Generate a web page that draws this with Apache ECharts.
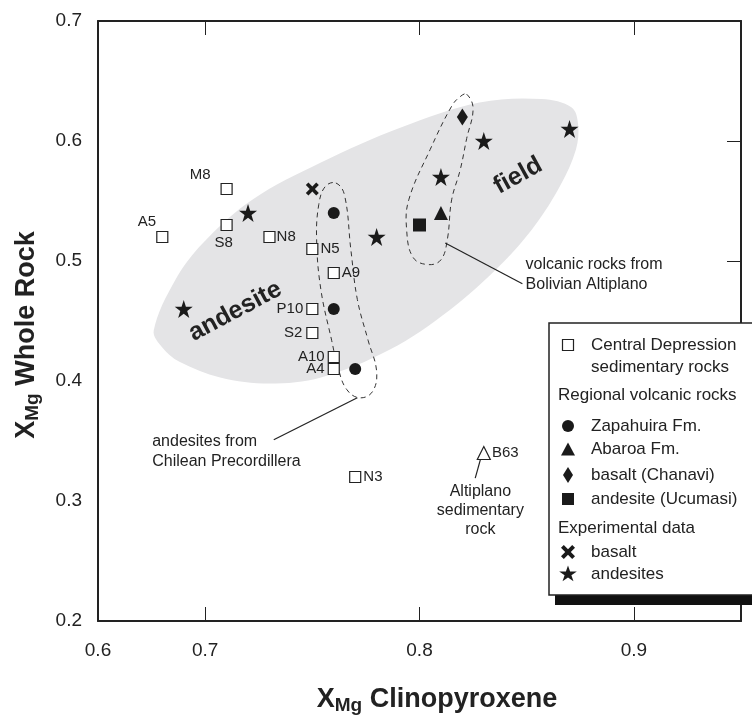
<!DOCTYPE html>
<html>
<head>
<meta charset="utf-8">
<script src="https://cdn.jsdelivr.net/npm/echarts@6/dist/echarts.min.js"></script>
<style>
html, body { margin: 0; padding: 0; background: #fff; }
#chart { width: 752px; height: 723px; }
</style>
</head>
<body>
<div id="chart"></div>
<script>
// axis ticks (the left edge sits at 0.65 but is labelled 0.6 in the original)
const xTickValues = [0.65, 0.7, 0.8, 0.9];
const xTickLabels = ['0.6', '0.7', '0.8', '0.9'];
const xInnerTicks = [0.7, 0.8, 0.9];
const yInnerTicks = [0.3, 0.4, 0.5, 0.6];

// Central Depression sedimentary rocks
const sedNames = ['M8', 'S8', 'A5', 'N8', 'N5', 'A9', 'P10', 'S2', 'A10', 'A4', 'N3'];
const sedX = [0.71, 0.71, 0.68, 0.73, 0.75, 0.76, 0.75, 0.75, 0.76, 0.76, 0.77];
const sedY = [0.56, 0.53, 0.52, 0.52, 0.51, 0.49, 0.46, 0.44, 0.42, 0.41, 0.32];
// Altiplano sedimentary rock
const altNames = ['B63'];
const altX = [0.83];
const altY = [0.34];
// regional volcanic rocks
const zapX = [0.76, 0.76, 0.77];
const zapY = [0.54, 0.46, 0.41];
const abaX = [0.81];
const abaY = [0.54];
const chaX = [0.82];
const chaY = [0.62];
const ucuX = [0.80];
const ucuY = [0.53];
// experimental data
const expBasX = [0.75];
const expBasY = [0.56];
const expAndX = [0.69, 0.72, 0.78, 0.81, 0.83, 0.87];
const expAndY = [0.46, 0.54, 0.52, 0.57, 0.60, 0.61];

// outlines of the drawn fields (data coordinates)
const andesiteField = [
  [0.676, 0.442], [0.686, 0.484], [0.699, 0.515], [0.722, 0.551], [0.754, 0.582],
  [0.791, 0.611], [0.828, 0.632], [0.857, 0.635], [0.871, 0.628], [0.874, 0.614],
  [0.873, 0.593], [0.866, 0.564], [0.854, 0.530], [0.838, 0.497], [0.814, 0.459],
  [0.786, 0.426], [0.754, 0.403], [0.730, 0.398], [0.707, 0.403], [0.688, 0.416],
  [0.680, 0.428]
];
const chileLoop = [
  [0.761, 0.565], [0.765, 0.555], [0.768, 0.509], [0.771, 0.468], [0.776, 0.434],
  [0.780, 0.408], [0.778, 0.391], [0.772, 0.386], [0.766, 0.393], [0.762, 0.411],
  [0.759, 0.434], [0.754, 0.476], [0.752, 0.518], [0.753, 0.547], [0.756, 0.562]
];
const boliviaLoop = [
  [0.822, 0.639], [0.825, 0.627], [0.822, 0.602], [0.819, 0.576], [0.815, 0.551],
  [0.813, 0.518], [0.810, 0.501], [0.804, 0.497], [0.797, 0.503], [0.794, 0.526],
  [0.795, 0.551], [0.805, 0.593], [0.815, 0.629], [0.819, 0.637]
];

const ink = '#222';
const font = '"Liberation Sans", Arial, sans-serif';
// symbol outlines in a 100x100 box
const starPts = [[50, 0], [61.8, 35.1], [98.9, 35.1], [68.9, 56.9], [80.3, 92.2], [50, 70.5], [19.7, 92.2], [31.1, 56.9], [1.1, 35.1], [38.2, 35.1]];
const crossPts = [[0, 20], [20, 0], [50, 30], [80, 0], [100, 20], [70, 50], [100, 80], [80, 100], [50, 70], [20, 100], [0, 80], [30, 50]];
const toPath = p => 'path://M' + p.map(q => q.join(',')).join(' L') + ' Z';

const labelSide = {
  M8: { position: 'left', distance: 1, offset: [-9, -14] },
  S8: { position: 'bottom', distance: 4, offset: [-3, 0] },
  A5: { position: 'left', distance: 0, offset: [0, -15] },
  N8: { position: 'right', distance: 1 },
  N5: { position: 'right', distance: 2 },
  A9: { position: 'right', distance: 2 },
  P10: { position: 'left', distance: 3 },
  S2: { position: 'left', distance: 4 },
  A10: { position: 'left', distance: 3 },
  A4: { position: 'left', distance: 3 },
  N3: { position: 'right', distance: 2 },
  B63: { position: 'right', distance: 1 }
};

function pts(xs, ys, names) {
  return xs.map((x, i) => {
    const item = { value: [x, ys[i]] };
    if (names) {
      item.name = names[i];
      item.label = Object.assign({ show: true }, labelSide[names[i]]);
    }
    return item;
  });
}

const labelStyle = { color: ink, fontSize: 15, fontFamily: font, formatter: '{b}' };

function scatter(name, data, symbol, size, fill) {
  return {
    name, type: 'scatter', z: 5, data, symbol, symbolSize: size,
    itemStyle: { color: fill, borderColor: ink, borderWidth: fill === '#fff' ? 1.2 : 0, opacity: 1 },
    label: labelStyle,
    emphasis: { disabled: true }
  };
}

function shapeSeries(z, build) {
  return {
    type: 'custom', coordinateSystem: 'cartesian2d', z, silent: true, clip: false,
    data: [[0.8, 0.4]],
    renderItem: (params, api) => build(api)
  };
}

const annoText = { fill: ink, fontSize: 16, fontFamily: font, lineHeight: 19 };

const option = {
  animation: false,
  backgroundColor: '#fff',
  grid: { left: 98, right: 11, top: 21, bottom: 102 },
  xAxis: [{
    type: 'value', min: 0.65, max: 0.95, position: 'bottom',
    axisLine: { show: true, onZero: false, lineStyle: { color: ink, width: 2 } },
    axisTick: { show: true, inside: true, length: 14, customValues: xInnerTicks, lineStyle: { color: ink, width: 1 } },
    axisLabel: {
      customValues: xTickValues, showMinLabel: true, margin: 20,
      color: ink, fontSize: 19, fontFamily: font,
      formatter: v => xTickLabels[xTickValues.findIndex(t => Math.abs(t - v) < 1e-6)] || ''
    },
    splitLine: { show: false }
  }, {
    type: 'value', min: 0.65, max: 0.95, position: 'top',
    axisLine: { show: true, onZero: false, lineStyle: { color: ink, width: 2 } },
    axisTick: { show: true, inside: true, length: 14, customValues: xInnerTicks, lineStyle: { color: ink, width: 1 } },
    axisLabel: { show: false },
    splitLine: { show: false }
  }],
  yAxis: [{
    type: 'value', min: 0.2, max: 0.7, interval: 0.1, position: 'left',
    axisLine: { show: true, onZero: false, lineStyle: { color: ink, width: 2 } },
    axisTick: { show: false },
    axisLabel: { color: ink, fontSize: 19, fontFamily: font, margin: 16, formatter: v => v.toFixed(1) },
    splitLine: { show: false }
  }, {
    type: 'value', min: 0.2, max: 0.7, position: 'right',
    axisLine: { show: true, onZero: false, lineStyle: { color: ink, width: 2 } },
    axisTick: { show: true, inside: true, length: 14, customValues: yInnerTicks, lineStyle: { color: ink, width: 1 } },
    axisLabel: { show: false },
    splitLine: { show: false }
  }],
  series: [
    // grey andesite field
    shapeSeries(1, api => ({
      type: 'polygon',
      shape: { points: andesiteField.map(p => api.coord(p)), smooth: 0.35 },
      style: { fill: '#e4e4e6', stroke: 'none' }
    })),
    // dashed loops, leader lines and annotations
    shapeSeries(2, api => {
      const c = p => api.coord(p);
      const dash = { fill: 'none', stroke: '#333', lineWidth: 1, lineDash: [5, 4] };
      const lineStyle = { stroke: ink, lineWidth: 1.2 };
      const seg = (a, b) => {
        const p = c(a), q = c(b);
        return { type: 'line', shape: { x1: p[0], y1: p[1], x2: q[0], y2: q[1] }, style: lineStyle };
      };
      const txt = (at, text, extra, rot) => {
        const p = c(at);
        return { type: 'text', x: p[0], y: p[1], rotation: rot || 0, style: Object.assign({ text }, annoText, extra) };
      };
      return {
        type: 'group',
        children: [
          { type: 'polygon', shape: { points: chileLoop.map(c), smooth: 0.4 }, style: dash },
          { type: 'polygon', shape: { points: boliviaLoop.map(c), smooth: 0.4 }, style: dash },
          seg([0.812, 0.515], [0.848, 0.481]),
          seg([0.771, 0.386], [0.732, 0.351]),
          seg([0.826, 0.319], [0.8288, 0.337]),
          txt([0.8495, 0.4886], 'volcanic rocks from\nBolivian Altiplano', { align: 'left', verticalAlign: 'middle', lineHeight: 20 }),
          txt([0.6753, 0.3408], 'andesites from\nChilean Precordillera', { align: 'left', verticalAlign: 'middle', lineHeight: 20 }),
          txt([0.8284, 0.2916], 'Altiplano\nsedimentary\nrock', { align: 'center', verticalAlign: 'middle' }),
          txt([0.714, 0.458], 'andesite', { align: 'center', verticalAlign: 'middle', fontSize: 25, fontWeight: 'bold' }, 28 * Math.PI / 180),
          txt([0.846, 0.571], 'field', { align: 'center', verticalAlign: 'middle', fontSize: 25, fontWeight: 'bold' }, 29 * Math.PI / 180)
        ]
      };
    }),
    scatter('Central Depression sedimentary rocks', pts(sedX, sedY, sedNames), 'rect', 11, '#fff'),
    scatter('Altiplano sedimentary rock', pts(altX, altY, altNames), 'triangle', 13, '#fff'),
    scatter('Zapahuira Fm.', pts(zapX, zapY), 'circle', 12, '#1a1a1a'),
    scatter('Abaroa Fm.', pts(abaX, abaY), 'triangle', 14, '#1a1a1a'),
    scatter('basalt (Chanavi)', pts(chaX, chaY), 'diamond', [11, 17], '#1a1a1a'),
    scatter('andesite (Ucumasi)', pts(ucuX, ucuY), 'rect', 13, '#1a1a1a'),
    scatter('basalt', pts(expBasX, expBasY), toPath(crossPts), 13, '#1a1a1a'),
    scatter('andesites', pts(expAndX, expAndY), toPath(starPts), 18, '#1a1a1a')
  ],
  graphic: []
};

// axis titles
const titleRich = {
  x: { fontSize: 27, fontWeight: 'bold', fontFamily: font, fill: ink },
  s: { fontSize: 19, fontWeight: 'bold', fontFamily: font, fill: ink, verticalAlign: 'bottom', padding: [12, 0, 0, 0] },
  t: { fontSize: 27, fontWeight: 'bold', fontFamily: font, fill: ink }
};
option.graphic.push({
  type: 'text', x: 437, y: 700, z: 10,
  style: { text: '{x|X}{s|Mg}{t| Clinopyroxene}', rich: titleRich, align: 'center', verticalAlign: 'middle' }
});
option.graphic.push({
  type: 'text', x: 27, y: 335, z: 10, rotation: Math.PI / 2,
  style: { text: '{x|X}{s|Mg}{t| Whole Rock}', rich: titleRich, align: 'center', verticalAlign: 'middle' }
});

// legend box
const legX = 549, legY = 323, symX = 568, txtX = 591;
option.graphic.push({ type: 'rect', z: 20, shape: { x: 555, y: legY + 272, width: 230, height: 10 }, style: { fill: '#111' } });
option.graphic.push({ type: 'rect', z: 21, shape: { x: legX, y: legY, width: 230, height: 272 }, style: { fill: '#fff', stroke: ink, lineWidth: 1.5 } });
const legText = (x, y, text) => ({ type: 'text', z: 22, x, y, style: { text, fill: ink, fontSize: 17, fontFamily: font, align: 'left', verticalAlign: 'middle' } });
const legPoly = (y, p, w, h) => ({
  type: 'polygon', z: 22,
  shape: { points: p.map(q => [symX - w / 2 + q[0] * w / 100, y - h / 2 + q[1] * h / 100]) },
  style: { fill: '#1a1a1a' }
});
option.graphic.push(
  { type: 'rect', z: 22, shape: { x: symX - 5.5, y: 345 - 5.5, width: 11, height: 11 }, style: { fill: '#fff', stroke: ink, lineWidth: 1.2 } },
  legText(txtX, 345, 'Central Depression'),
  legText(txtX, 367, 'sedimentary rocks'),
  legText(558, 395, 'Regional volcanic rocks'),
  { type: 'circle', z: 22, shape: { cx: symX, cy: 426, r: 6 }, style: { fill: '#1a1a1a' } },
  legText(txtX, 426, 'Zapahuira Fm.'),
  legPoly(449, [[50, 0], [100, 100], [0, 100]], 14, 13),
  legText(txtX, 449, 'Abaroa Fm.'),
  legPoly(475, [[50, 0], [100, 50], [50, 100], [0, 50]], 10, 16),
  legText(txtX, 475, 'basalt (Chanavi)'),
  { type: 'rect', z: 22, shape: { x: symX - 6, y: 499 - 6, width: 12, height: 12 }, style: { fill: '#1a1a1a' } },
  legText(txtX, 499, 'andesite (Ucumasi)'),
  legText(558, 528, 'Experimental data'),
  legPoly(552, crossPts, 14, 14),
  legText(txtX, 552, 'basalt'),
  legPoly(574, starPts, 18, 17),
  legText(txtX, 574, 'andesites')
);

const chart = echarts.init(document.getElementById('chart'));
chart.setOption(option);
</script>
</body>
</html>
